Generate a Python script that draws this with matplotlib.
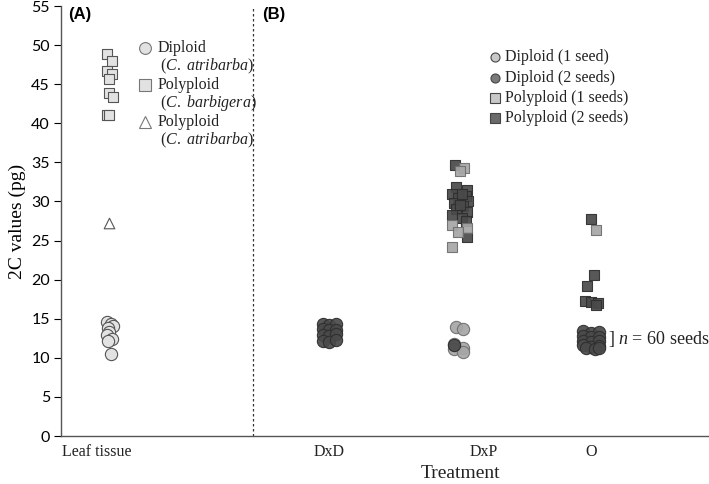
#!/usr/bin/env python3
"""2C values of leaf tissue and seeds by treatment."""
import numpy as np
import matplotlib
matplotlib.use('Agg')
import matplotlib.pyplot as plt

plt.rcParams['mathtext.fontset'] = 'custom'
plt.rcParams['mathtext.it'] = 'Liberation Serif:italic'
plt.rcParams['mathtext.rm'] = 'Liberation Serif'

SERIF = 'Liberation Serif'
SANS = 'Lato'

# category positions on the x axis (clusters) and where their labels sit
cat_names = ['Leaf tissue', 'DxD', 'DxP', 'O']
cat_pos = [0.32, 2.0, 3.0, 4.0]
label_pos = [0.22, 2.0, 3.18, 4.0]
divider = 1.42

# (A) leaf tissue
leaf_dip_y = [14.6, 14.3, 14.1, 13.8, 13.3, 12.9, 12.4, 12.1, 10.5]
leaf_dip_dx = [-0.02, 0.01, 0.03, -0.01, 0.0, -0.02, 0.02, -0.01, 0.01]
leaf_barb_y = [48.9, 48.0, 46.7, 46.3, 45.6, 43.9, 43.4, 41.0, 41.0]
leaf_barb_dx = [-0.02, 0.02, -0.02, 0.02, 0.0, 0.0, 0.03, -0.02, 0.0]
leaf_atri_y = [27.3]
leaf_atri_dx = [0.0]

# (B) seeds: DxD
dxd_d2_y = [14.3, 14.2, 14.3, 13.7, 13.6, 13.5, 12.9, 12.8, 13.0, 12.2, 12.0, 12.3]
dxd_d2_dx = [-0.05, 0.0, 0.05, -0.05, 0.0, 0.05, -0.05, 0.0, 0.05, -0.05, 0.0, 0.05]

# DxP
dxp_p2_y = [34.7, 31.8, 31.5, 31.0, 30.7, 30.4, 30.1, 29.8, 29.4, 29.0, 28.6,
            28.3, 27.9, 27.5, 25.4, 29.6, 30.9]
dxp_p2_dx = [-0.04, -0.03, 0.05, -0.06, 0.04, -0.02, 0.06, -0.05, 0.02, -0.03,
             0.05, -0.06, 0.01, 0.04, 0.05, 0.0, 0.01]
dxp_p1_y = [34.3, 33.9, 27.0, 26.6, 26.1, 24.2]
dxp_p1_dx = [0.03, 0.0, -0.06, 0.05, -0.02, -0.06]
dxp_d1_y = [13.9, 13.7, 11.8, 11.2, 11.1, 10.7]
dxp_d1_dx = [-0.03, 0.02, -0.05, 0.02, -0.05, 0.02]
dxp_d2_y = [11.6]
dxp_d2_dx = [-0.05]

# O
o_p2_y = [27.7, 20.6, 19.2, 17.3, 17.2, 17.0, 16.7]
o_p2_dx = [0.0, 0.02, -0.03, -0.05, 0.0, 0.05, 0.04]
o_p1_y = [26.4]
o_p1_dx = [0.04]
o_d2_y = [13.4, 13.2, 13.3, 12.8, 12.6, 12.7, 12.1, 12.0, 12.2, 11.6, 11.4, 11.5, 11.2, 11.1, 11.3]
o_d2_dx = [-0.06, 0.0, 0.06, -0.06, 0.0, 0.06, -0.06, 0.0, 0.06, -0.06, 0.0, 0.06, -0.04, 0.03, 0.06]

fig = plt.figure(figsize=(7.09, 4.84), dpi=100)
ax = fig.add_axes([61/709, 48/484, 648/709, 430/484])


def pts(px, dx, ys):
    return [px + d for d in dx], ys


S = 58

# panel A
x, y = pts(cat_pos[0], leaf_barb_dx, leaf_barb_y)
ax.scatter(x, y, marker='s', s=S, c='#e2e2e2', edgecolors='#555555', linewidths=0.8, zorder=3)
x, y = pts(cat_pos[0], leaf_dip_dx, leaf_dip_y)
ax.scatter(x, y, marker='o', s=S + 20, c='#e2e2e2', edgecolors='#555555', linewidths=0.8, zorder=3)
x, y = pts(cat_pos[0], leaf_atri_dx, leaf_atri_y)
ax.scatter(x, y, marker='^', s=S, c='white', edgecolors='#555555', linewidths=0.8, zorder=3)

# panel B
light_fc, light_ec = '#a6a6a6', '#6e6e6e'
dark_fc, dark_ec = '#4a4a4a', '#2e2e2e'
groups = [
    (cat_pos[1], dxd_d2_dx, dxd_d2_y, 'o', dark_fc, dark_ec, S + 20),
    (cat_pos[2], dxp_p2_dx, dxp_p2_y, 's', dark_fc, dark_ec, S),
    (cat_pos[2], dxp_p1_dx, dxp_p1_y, 's', light_fc, light_ec, S),
    (cat_pos[2], dxp_d1_dx, dxp_d1_y, 'o', light_fc, light_ec, S + 20),
    (cat_pos[2], dxp_d2_dx, dxp_d2_y, 'o', dark_fc, dark_ec, S + 20),
    (cat_pos[3], o_p2_dx, o_p2_y, 's', dark_fc, dark_ec, S),
    (cat_pos[3], o_p1_dx, o_p1_y, 's', light_fc, light_ec, S),
    (cat_pos[3], o_d2_dx, o_d2_y, 'o', dark_fc, dark_ec, S + 20),
]
for px, dx, ys, m, fc, ec, s in groups:
    x, y = pts(px, dx, ys)
    ax.scatter(x, y, marker=m, s=s, c=fc, edgecolors=ec, linewidths=0.8, alpha=0.92, zorder=3)

ax.axvline(divider, color='#333333', lw=0.9, ls=(0, (2, 2)))

ax.set_xlim(-0.05, 4.9)
ax.set_ylim(0, 55)
ax.set_yticks(np.arange(0, 56, 5))
ax.tick_params(axis='y', direction='out', length=5, width=0.8, labelsize=11.5, pad=3)
for lab in ax.get_yticklabels():
    lab.set_family(SANS)
ax.set_xticks([])
for name, lp in zip(cat_names, label_pos):
    ax.text(lp, -2.1, name, family=SERIF, fontsize=11.5, ha='center', va='center', color='#222222')
for sp in ['top', 'right']:
    ax.spines[sp].set_visible(False)
for sp in ['left', 'bottom']:
    ax.spines[sp].set_color('#555555')
    ax.spines[sp].set_linewidth(1.0)

ax.set_ylabel('2C values (pg)', family=SERIF, fontsize=14, labelpad=4)
ax.text(3.0, -4.75, 'Treatment', family=SERIF, fontsize=14, ha='center', va='center', color='#222222')

# panel letters
fig.text(68/709, 1 - 15/484, '(A)', family='Liberation Sans', weight='bold', fontsize=12, va='center')
fig.text(262/709, 1 - 15/484, '(B)', family='Liberation Sans', weight='bold', fontsize=12, va='center')


def fx(p):
    return p / 709


def fy(p):
    return 1 - p / 484


# legend A
leg_a = [('o', '#e2e2e2', 'Diploid', 'C. atribarba', 48),
         ('s', '#e2e2e2', 'Polyploid', 'C. barbigera', 85),
         ('^', 'white', 'Polyploid', 'C. atribarba', 122)]
for m, fc, t1, t2, yy in leg_a:
    fig.lines.append(plt.Line2D([fx(145)], [fy(yy)], marker=m, ms=8.5, mfc=fc, mec='#777777',
                                mew=0.8, ls='none', transform=fig.transFigure))
    fig.text(fx(158), fy(yy), t1, family=SERIF, fontsize=11.5, va='center', color='#222222')
    fig.text(fx(160), fy(yy + 18), '(' + r'$\it{' + t2.replace(' ', r'\ ') + '}$' + ')',
             family=SERIF, fontsize=11.5, va='center', color='#222222')

# legend B
leg_b = [('o', '#c8c8c8', 'Diploid (1 seed)'),
         ('o', '#7a7a7a', 'Diploid (2 seeds)'),
         ('s', '#c8c8c8', 'Polyploid (1 seeds)'),
         ('s', '#6a6a6a', 'Polyploid (2 seeds)')]
for i, (m, fc, t) in enumerate(leg_b):
    yy = 57 + i * 20.5
    fig.lines.append(plt.Line2D([fx(495)], [fy(yy)], marker=m, ms=6.5, mfc=fc, mec='#444444',
                                mew=0.8, ls='none', transform=fig.transFigure))
    fig.text(fx(505), fy(yy), t, family=SERIF, fontsize=11.5, va='center', color='#222222')

ax.text(4.13, 12.4, r'] $n$ = 60 seeds', family=SERIF, fontsize=13, va='center', color='#222222')

fig.savefig('out.png', dpi=100)
plt.close()
